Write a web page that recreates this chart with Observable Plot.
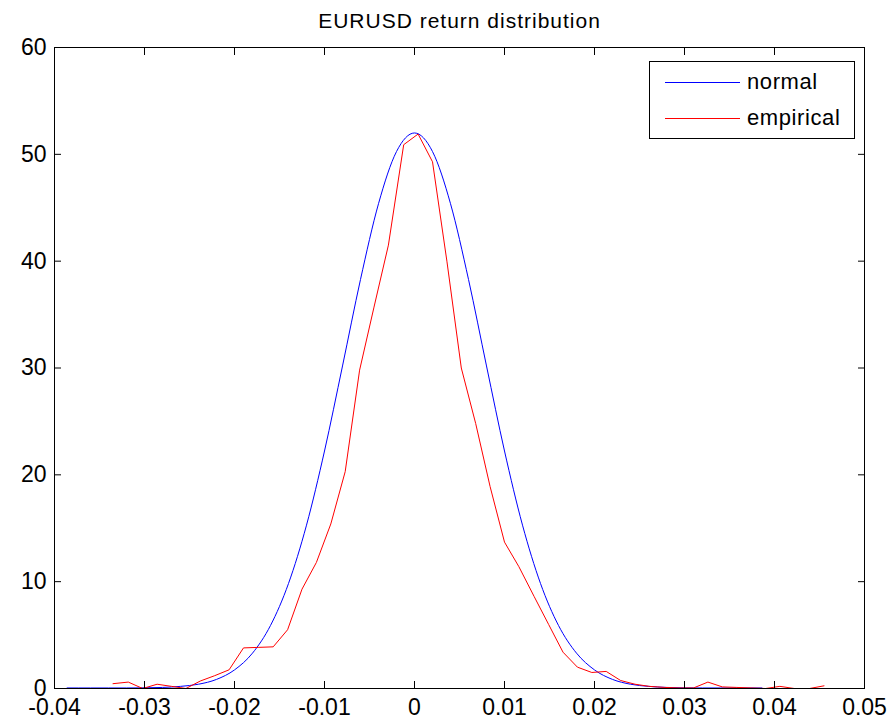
<!DOCTYPE html>
<html>
<head>
<meta charset="utf-8">
<script src="https://cdn.jsdelivr.net/npm/d3@7"></script>
<script src="https://cdn.jsdelivr.net/npm/@observablehq/plot@0.6"></script>
<style>
  body { margin: 0; background: #fff; }
  #wrap { position: relative; width: 896px; height: 723px; font-family: "Liberation Sans", Arial, sans-serif; }
  #legend { position: absolute; left: 649px; top: 61px; width: 204px; height: 76px; border: 1px solid #000; background: #fff; }
  .row { position: absolute; left: 0; height: 24px; }
  .sw { position: absolute; left: 15px; width: 75px; height: 0; border-top: 1px solid; }
  .lbl { position: absolute; left: 97px; font-size: 22px; letter-spacing: 0.6px; line-height: 24px; white-space: nowrap; color: #000; }
</style>
</head>
<body>
<div id="wrap">
  <div id="chart"></div>
  <div id="legend"></div>
</div>
<script>
// ---- data ----
const chartTitle = "EURUSD return distribution";
const seriesNames = ["normal", "empirical"];
const seriesColors = ["#0000ff", "#ff0000"];

const xTicks = [-0.04, -0.03, -0.02, -0.01, 0, 0.01, 0.02, 0.03, 0.04, 0.05];
const xTickLabels = ["-0.04", "-0.03", "-0.02", "-0.01", "0", "0.01", "0.02", "0.03", "0.04", "0.05"];
const yTicks = [0, 10, 20, 30, 40, 50, 60];
const yTickLabels = ["0", "10", "20", "30", "40", "50", "60"];

// normal density curve (blue)
const normalX = [-0.0386, -0.036, -0.034, -0.032, -0.030, -0.028, -0.026, -0.024, -0.022, -0.020,
  -0.018, -0.016, -0.014, -0.012, -0.010, -0.008, -0.006, -0.004, -0.002, 0,
  0.002, 0.004, 0.006, 0.008, 0.010, 0.012, 0.014, 0.016, 0.018, 0.020,
  0.022, 0.024, 0.026, 0.028, 0.030, 0.032, 0.034, 0.036, 0.0386];
const normalY = [0.05, 0.05, 0.05, 0.05, 0.06, 0.1, 0.2, 0.4, 0.85, 1.74,
  3.31, 5.90, 9.83, 15.29, 22.23, 30.19, 38.29, 45.38, 50.26, 52.0,
  50.26, 45.38, 38.29, 30.19, 22.23, 15.29, 9.83, 5.90, 3.31, 1.74,
  0.85, 0.4, 0.2, 0.1, 0.06, 0.05, 0.05, 0.05, 0.05];

// empirical density (red)
const empiricalX = [-0.0335, -0.0318, -0.0302, -0.0286, -0.0270, -0.0254, -0.0238, -0.0222, -0.0206, -0.0190,
  -0.0173, -0.0157, -0.0141, -0.0125, -0.0109, -0.0093, -0.0077, -0.0061, -0.0045, -0.0029,
  -0.0012, 0.0004, 0.0020, 0.0036, 0.0052, 0.0068, 0.0084, 0.0100, 0.0116, 0.0133,
  0.0149, 0.0165, 0.0181, 0.0197, 0.0213, 0.0229, 0.0245, 0.0261, 0.0278, 0.0294,
  0.0310, 0.0326, 0.0342, 0.0358, 0.0374, 0.0390, 0.0406, 0.0422, 0.0439, 0.0455];
const empiricalY = [0.45, 0.6, 0.0, 0.4, 0.2, 0.0, 0.7, 1.2, 1.75, 3.8,
  3.85, 3.9, 5.5, 9.3, 11.8, 15.4, 20.3, 29.8, 35.7, 41.5,
  50.9, 51.9, 49.3, 40.0, 30.0, 24.8, 18.9, 13.7, 11.4, 8.6,
  6.0, 3.4, 2.0, 1.5, 1.6, 0.75, 0.4, 0.2, 0.1, 0.05,
  0.05, 0.6, 0.15, 0.1, 0.05, 0.0, 0.2, 0.0, 0.0, 0.25];

// ---- build tables ----
const normal = normalX.map((x, i) => ({x, y: normalY[i]}));
const empirical = empiricalX.map((x, i) => ({x, y: empiricalY[i]}));
const fmtX = d => xTickLabels[xTicks.indexOf(d)];
const fmtY = d => yTickLabels[yTicks.indexOf(d)];

const chart = Plot.plot({
  width: 896,
  height: 723,
  marginLeft: 54,
  marginRight: 32,
  marginTop: 47,
  marginBottom: 35,
  style: {fontFamily: "'Liberation Sans', Arial, sans-serif", fontSize: "23px", color: "#000", background: "#fff", overflow: "visible"},
  x: {domain: [-0.04, 0.05], label: null},
  y: {domain: [0, 60], label: null},
  marks: [
    Plot.line(normal, {x: "x", y: "y", stroke: seriesColors[0], strokeWidth: 1, curve: "monotone-x"}),
    Plot.line(empirical, {x: "x", y: "y", stroke: seriesColors[1], strokeWidth: 1}),
    Plot.frame({stroke: "#000", strokeWidth: 1}),
    Plot.axisX(xTicks, {anchor: "bottom", tickSize: -7, tickPadding: 17, tickFormat: fmtX, stroke: "#000", fill: "#000"}),
    Plot.axisX(xTicks, {anchor: "top", tickSize: -7, tickFormat: () => "", stroke: "#000"}),
    Plot.axisY(yTicks, {anchor: "left", tickSize: -7, tickPadding: 15, tickFormat: fmtY, stroke: "#000", fill: "#000"}),
    Plot.axisY(yTicks, {anchor: "right", tickSize: -7, tickFormat: () => "", stroke: "#000"}),
    Plot.text([chartTitle], {frameAnchor: "top", dy: -26, fontSize: 21, fill: "#000", lineAnchor: "middle", style: "letter-spacing: 1px"})
  ]
});
document.getElementById("chart").appendChild(chart);
chart.querySelectorAll("text").forEach(t => { if (t.textContent === chartTitle) t.setAttribute("letter-spacing", "1"); });

// legend (inside axes, top-right)
const legend = document.getElementById("legend");
const rowTops = [8, 44];
seriesNames.forEach((name, i) => {
  const row = document.createElement("div");
  row.className = "row";
  row.style.top = rowTops[i] + "px";
  row.style.width = "100%";
  const sw = document.createElement("div");
  sw.className = "sw";
  sw.style.top = "12px";
  sw.style.borderColor = seriesColors[i];
  const lb = document.createElement("div");
  lb.className = "lbl";
  lb.style.top = "0px";
  lb.textContent = name;
  row.appendChild(sw);
  row.appendChild(lb);
  legend.appendChild(row);
});
</script>
</body>
</html>
